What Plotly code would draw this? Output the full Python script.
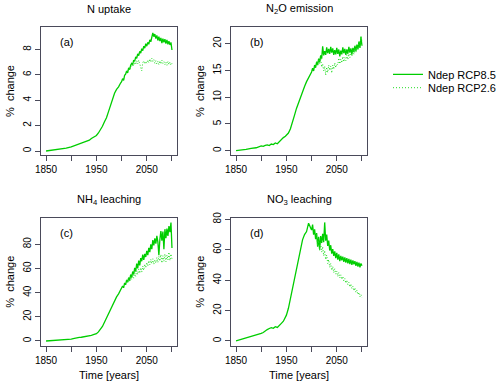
import plotly.graph_objects as go

# ---------------- data ----------------
years_85 = [1850, 1860, 1870, 1880, 1890, 1900] + list(range(1904, 1949, 4)) \
    + list(range(1950, 1999, 4)) + list(range(2000, 2101, 2))
years_26 = list(range(2010, 2101, 2))

uptake_85 = [0.00, 0.05, 0.10, 0.15, 0.22, 0.33,
             0.40, 0.45, 0.50, 0.55, 0.62, 0.68, 0.72, 0.76, 0.85, 0.98, 1.10, 1.18,
             1.22, 1.42, 1.65, 1.95, 2.30, 2.62, 3.10, 3.60, 4.10, 4.55, 4.85, 5.05, 5.35,
             5.45, 5.70, 5.55, 5.95, 6.05, 6.30, 6.15, 6.55, 6.40, 6.75,
             6.90, 6.80, 7.15, 7.05, 7.40, 7.30, 7.65, 7.50, 7.85, 7.70,
             8.05, 7.90, 8.25, 8.10, 8.45, 8.25, 8.55, 8.40, 8.75, 8.60,
             9.05, 9.30, 9.00, 9.20, 8.85, 9.10, 8.70, 9.00, 8.65, 8.90,
             8.50, 8.85, 8.55, 8.80, 8.45, 8.75, 8.40, 8.65, 8.35, 8.55,
             7.95]
uptake_26 = [6.30, 6.20, 6.50, 6.35, 6.70, 6.60, 6.85, 6.70, 7.00, 6.80,
             7.10, 6.85, 7.15, 6.90, 6.55, 6.30, 6.95, 7.10, 6.85, 7.05,
             6.90, 7.15, 6.95, 7.25, 7.00, 7.30, 7.05, 7.20, 6.90, 7.10,
             6.85, 7.05, 6.80, 7.10, 6.85, 7.15, 6.90, 7.05, 6.80, 7.00,
             6.75, 7.05, 6.80, 7.00, 6.75, 6.90]

n2o_85 = [0.0, 0.1, 0.25, 0.45, 0.55, 0.9,
          0.8, 1.0, 1.1, 0.95, 1.25, 1.15, 1.45, 1.3, 1.75, 2.2, 2.45, 2.7,
          2.9, 3.3, 4.1, 5.2, 6.6, 7.9, 9.0, 10.2, 11.2, 12.0, 12.9, 13.6, 14.4,
          14.7, 15.4, 14.9, 16.0, 15.5, 16.6, 16.0, 17.2, 16.5, 17.8,
          17.2, 19.5, 17.8, 18.6, 17.9, 19.3, 18.2, 19.0, 18.1, 19.4,
          18.3, 19.1, 17.9, 18.8, 18.0, 19.2, 18.1, 18.9, 17.6, 18.7,
          18.0, 19.3, 18.2, 19.0, 17.9, 18.9, 18.1, 19.4, 18.3, 19.1,
          18.0, 19.2, 18.4, 19.6, 18.6, 19.8, 18.9, 20.4, 19.2, 21.2,
          19.6]
n2o_26 = [16.6, 16.0, 17.0, 16.3, 17.2, 15.6, 16.2, 14.9, 15.8, 14.1,
          15.6, 14.6, 16.0, 15.0, 15.8, 14.5, 16.0, 15.2, 16.4, 15.5,
          16.2, 16.0, 17.3, 16.2, 17.1, 16.4, 17.6, 16.6, 17.4, 16.8,
          17.9, 17.0, 18.1, 17.4, 18.5, 17.6, 18.8, 18.0, 19.2, 18.4,
          19.6, 18.9, 20.3, 19.6, 21.5, 20.4]

nh4_85 = [0.0, 0.2, 0.4, 0.6, 0.9, 1.6,
          2.0, 2.5, 2.8, 3.0, 3.1, 3.3, 3.5, 3.7, 4.0, 4.6, 5.2, 5.7,
          6.0, 7.5, 9.5, 12.0, 15.5, 19.0, 23.0, 27.0, 30.5, 33.5, 36.5, 39.0, 42.0,
          43.5, 45.5, 44.0, 48.0, 46.5, 50.5, 48.5, 52.5, 50.0, 55.0,
          52.5, 57.5, 55.0, 60.5, 57.5, 64.0, 60.0, 66.5, 62.5, 68.5,
          66.0, 71.5, 67.0, 72.0, 69.5, 74.5, 71.0, 77.0, 73.5, 80.0,
          76.0, 83.5, 79.0, 85.0, 80.5, 87.0, 82.0, 71.0, 84.0, 91.0,
          83.0, 90.5, 76.0, 92.5, 85.0, 93.0, 87.0, 95.0, 90.0, 98.0,
          77.0]
nh4_26 = [50.5, 48.5, 51.5, 49.5, 53.0, 51.0, 55.0, 52.0, 56.5, 53.5,
          58.0, 55.0, 59.5, 56.0, 60.5, 57.0, 62.0, 58.5, 63.5, 60.5,
          65.0, 62.0, 66.5, 63.0, 67.5, 64.0, 68.0, 63.5, 67.0, 64.5,
          69.0, 65.0, 70.0, 66.0, 71.5, 64.5, 70.5, 66.0, 72.0, 65.5,
          71.0, 67.0, 73.5, 66.5, 72.0, 68.0]

no3_85 = [0.0, 0.9, 1.8, 2.9, 3.8, 5.0,
          5.6, 6.8, 7.5, 8.2, 8.8, 8.3, 9.4, 8.9, 10.0, 11.6, 13.0, 15.5,
          17.0, 21.5, 28.0, 35.0, 41.0, 47.0, 53.5, 61.0, 66.5, 70.0, 72.0, 77.5, 73.5,
          73.0, 76.5, 70.0, 73.5, 67.0, 71.0, 62.0, 68.5, 60.0, 69.0,
          64.5, 70.5, 65.0, 78.0, 66.0, 70.0, 62.5, 66.0, 59.5, 63.0,
          57.5, 60.5, 56.0, 59.0, 54.5, 58.0, 53.5, 57.0, 52.5, 56.0,
          53.0, 55.5, 52.0, 55.0, 51.5, 54.5, 51.0, 54.0, 50.5, 53.5,
          50.0, 53.0, 50.5, 52.5, 49.5, 52.0, 49.0, 51.5, 48.5, 51.0,
          49.5]
no3_26 = [70.0, 62.5, 66.0, 59.5, 64.0, 58.5, 62.0, 56.0, 59.5, 53.5,
          56.5, 51.0, 53.5, 48.5, 51.0, 46.5, 49.0, 45.0, 47.5, 44.0,
          46.0, 42.5, 45.0, 41.5, 43.5, 40.5, 42.5, 39.5, 41.0, 38.0,
          40.0, 37.0, 38.5, 35.5, 37.5, 34.5, 36.0, 33.0, 35.0, 32.0,
          33.5, 30.5, 32.0, 29.0, 30.5, 28.5]

titles = ["N uptake", "N<sub>2</sub>O emission", "NH<sub>4</sub> leaching", "NO<sub>3</sub> leaching"]
panel_tags = ["(a)", "(b)", "(c)", "(d)"]
y_ticks = [[0, 2, 4, 6, 8], [0, 5, 10, 15, 20], [0, 20, 40, 60, 80], [0, 20, 40, 60, 80]]
y_ranges = [[-0.315, 9.76], [-0.8, 23.1], [-3.9, 102.0], [-3.1, 81.1]]
x_ticks = [1850, 1900, 1950, 2000, 2050, 2100]
x_ticklabels = ["1850", " ", "1950", " ", "2050", " "]
series_85 = [uptake_85, n2o_85, nh4_85, no3_85]
series_26 = [uptake_26, n2o_26, nh4_26, no3_26]

for s in series_85:
    assert len(s) == len(years_85), len(s)
for s in series_26:
    assert len(s) == len(years_26), len(s)

# ---------------- layout helpers ----------------
W, H = 500, 386
FONT = "Liberation Sans, Arial, Helvetica, sans-serif"
GREEN = "#00CD00"
GREEN_DOT = "#22DD22"
AXC = "#4a4a5a"

# panel boxes in pixels (left, right, top, bottom)
boxes = [(41, 177, 27, 155), (231, 367, 27, 155),
         (41, 177, 217.7, 345.7), (231, 367, 217.7, 345.7)]

fig = go.Figure()
layout = dict(width=W, height=H, autosize=False,
              margin=dict(l=0, r=0, t=0, b=0, autoexpand=False),
              paper_bgcolor="white", plot_bgcolor="white",
              font=dict(family=FONT, size=11, color="black"))
annotations = []

for i in range(4):
    xa = "x" if i == 0 else f"x{i+1}"
    ya = "y" if i == 0 else f"y{i+1}"
    l, r, t, b = boxes[i]
    xkey = "xaxis" if i == 0 else f"xaxis{i+1}"
    ykey = "yaxis" if i == 0 else f"yaxis{i+1}"
    layout[xkey] = dict(domain=[l / W, r / W], range=[1840, 2110], anchor=ya,
                        showline=True, mirror=True, linecolor=AXC, linewidth=1,
                        ticks="outside", ticklen=5, tickwidth=1, tickcolor=AXC,
                        tickvals=x_ticks, ticktext=x_ticklabels,
                        tickfont=dict(size=10, family=FONT, color="black"),
                        showgrid=False, zeroline=False)
    layout[ykey] = dict(domain=[1 - b / H, 1 - t / H], range=y_ranges[i], anchor=xa,
                        showline=True, mirror=True, linecolor=AXC, linewidth=1,
                        ticks="outside", ticklen=5, tickwidth=1, tickcolor=AXC,
                        tickvals=y_ticks[i], tickangle=-90,
                        tickfont=dict(size=10, family=FONT, color="black"),
                        showgrid=False, zeroline=False)

    fig.add_trace(go.Scatter(x=years_85, y=series_85[i], mode="lines",
                             line=dict(color=GREEN, width=1.3),
                             name="Ndep RCP8.5", showlegend=(i == 0),
                             legend="legend", xaxis=xa, yaxis=ya))
    fig.add_trace(go.Scatter(x=years_26, y=series_26[i], mode="lines",
                             line=dict(color=GREEN_DOT, width=1, dash="1px,2px"),
                             name="Ndep RCP2.6", showlegend=(i == 0),
                             legend="legend2", xaxis=xa, yaxis=ya))

    cx = (l + r) / 2
    annotations.append(dict(text=titles[i], x=cx / W, y=1 - (t - 18) / H,
                            xref="paper", yref="paper", showarrow=False,
                            xanchor="center", yanchor="middle",
                            font=dict(size=11, family=FONT, color="black")))
    annotations.append(dict(text=panel_tags[i], x=(l + 25) / W, y=1 - (t + 15) / H,
                            xref="paper", yref="paper", showarrow=False,
                            xanchor="center", yanchor="middle",
                            font=dict(size=11, family=FONT, color="black")))
    annotations.append(dict(text="%  change", x=(l - 31) / W, y=1 - ((t + b) / 2) / H,
                            xref="paper", yref="paper", showarrow=False,
                            textangle=-90, xanchor="center", yanchor="middle",
                            font=dict(size=11, family=FONT, color="black")))
    if i >= 2:
        annotations.append(dict(text="Time [years]", x=cx / W, y=1 - (b + 29.5) / H,
                                xref="paper", yref="paper", showarrow=False,
                                xanchor="center", yanchor="middle",
                                font=dict(size=11, family=FONT, color="black")))

layout["annotations"] = annotations
legend_common = dict(xanchor="left", yanchor="middle", bgcolor="rgba(0,0,0,0)",
                     borderwidth=0, font=dict(size=11, family=FONT, color="black"),
                     itemwidth=30, tracegroupgap=0)
layout["legend"] = dict(x=388 / W, y=1 - 74.3 / H, **legend_common)
layout["legend2"] = dict(x=388 / W, y=1 - 87.7 / H, **legend_common)

fig.update_layout(**layout)
fig.write_html("out.html",
               config=dict(displayModeBar=False, staticPlot=True),
               post_script="document.body.style.margin='0';document.body.style.overflow='hidden';")
